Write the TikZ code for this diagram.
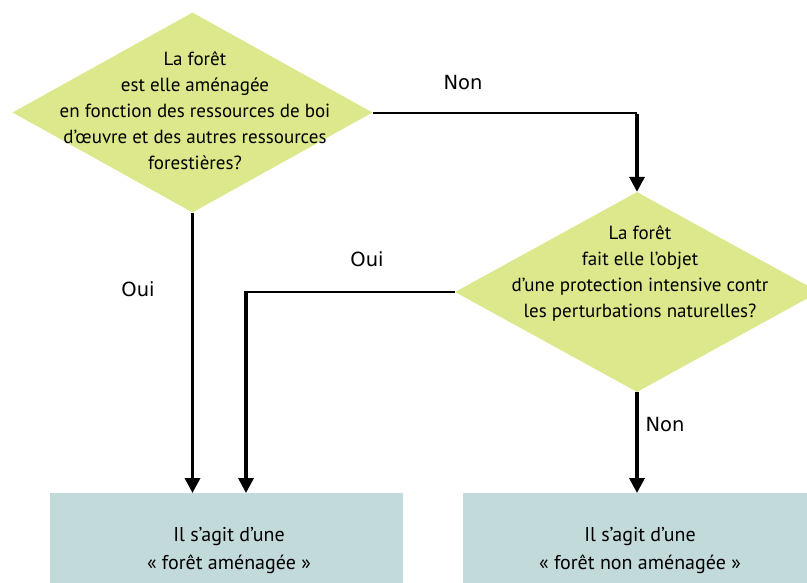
\documentclass[tikz,border=0pt]{standalone}
\usepackage{fontspec}
\setmainfont{PT Sans}
\newfontfamily\lblfont{DejaVu Sans}
\usetikzlibrary{shapes.geometric,arrows.meta,positioning}
\definecolor{rombo}{RGB}{221,231,140}
\definecolor{caja}{RGB}{195,218,219}
\tikzset{
  pregunta/.style={diamond,fill=rombo,inner sep=0pt,minimum width=#1,minimum height=200pt},
  texto/.style={align=center,font=\fontsize{19}{26}\selectfont},
  resultado/.style={rectangle,fill=caja,minimum width=#1,minimum height=116pt},
  flecha/.style={line width=3.4pt,-{Triangle[width=15pt,length=15pt]}},
  linea/.style={line width=2pt},
  etiq/.style={font=\lblfont\fontsize{19.5}{22}\selectfont}
}
\begin{document}
\begin{tikzpicture}[x=1pt,y=-1pt]
  % Marco
  \clip (0,0) rectangle (807,582);

  % Rombos
  \node[pregunta=360pt] (q1) at (192.5,112.5) {};
  \node[texto] (t1) at (195,111) {La forêt\\est elle aménagée\\en fonction des ressources de boi\\d’œuvre et des autres ressources\\forestières?};
  \node[pregunta=364pt] (q2) at (637,292) {};
  \node[texto] (t2) at (640,273) {La forêt\\fait elle l’objet\\d’une protection intensive contr\\les perturbations naturelles?};

  % Cajas
  \node[resultado=353pt,anchor=north west] (r1) at (50,493) {};
  \node[texto,font=\fontsize{20}{28}\selectfont] (s1) at (229,551) {Il s’agit d’une\\« forêt aménagée »};
  \node[resultado=354pt,anchor=north west] (r2) at (463,493) {};
  \node[texto,font=\fontsize{20}{28}\selectfont] (s2) at (640,551) {Il s’agit d’une\\« forêt non aménagée »};

  % Flechas
  \coordinate (c1) at (q1.east -| q2.north);
  \draw[linea] (q1.east) -- (c1);
  \draw[flecha] ([yshift=-1pt]c1) -- (q2.north);
  \draw[flecha] (q1.south) -- (q1.south |- r1.north);
  \coordinate (c2) at (246,291);
  \draw[linea] (q2.west) -- (q2.west -| c2) -- (c2);
  \draw[flecha] (c2) -- (c2 |- r1.north);
  \draw[flecha] (q2.south) -- (q2.south |- r2.north);

  % Etiquetas
  \node[etiq] (l1) at (463,83) {Non};
  \node[etiq] (l2) at (138,289) {Oui};
  \node[etiq] (l3) at (367,259) {Oui};
  \node[etiq] (l4) at (665,425) {Non};
\end{tikzpicture}
\end{document}
